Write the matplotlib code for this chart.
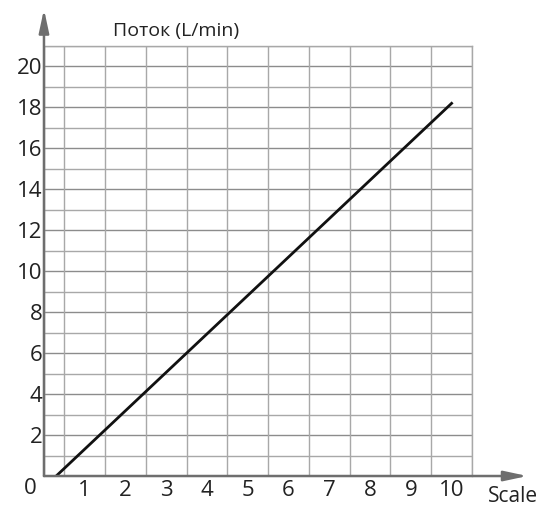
import numpy as np
import matplotlib.pyplot as plt

# flow vs scale setting
scale = [0.3, 10.0]
flow = [0.0, 18.2]
x_ticks = [1, 2, 3, 4, 5, 6, 7, 8, 9, 10]
y_ticks = [2, 4, 6, 8, 10, 12, 14, 16, 18, 20]

plt.rcParams["font.family"] = ["Open Sans", "DejaVu Sans"]

fig = plt.figure(figsize=(5.49, 5.09), dpi=100)
ax = fig.add_axes([0.0801, 0.0648, 0.7796, 0.8448])

ax.set_xlim(0, 10.5)
ax.set_ylim(0, 21)

# grid: every 0.5 on x, every 1 on y
ax.set_xticks(np.arange(0, 10.51, 0.5), minor=True)
ax.set_yticks(np.arange(0, 21.01, 1), minor=True)
ax.grid(which="minor", color="#a8a8a8", lw=1.0)
ax.set_axisbelow(True)

ax.set_xticks(x_ticks)
ax.set_xticklabels([str(v) for v in x_ticks], fontsize=16, color="#222222")
ax.set_yticks(y_ticks)
ax.set_yticklabels([str(v) for v in y_ticks], fontsize=16, color="#222222")
for yv in y_ticks:
    ax.axhline(yv, color="#8c8c8c", lw=1.0, zorder=0.5)
ax.tick_params(which="both", length=0)
ax.tick_params(axis="x", pad=3)
ax.tick_params(axis="y", pad=1)

for side in ["top", "right"]:
    ax.spines[side].set_color("#a8a8a8")
    ax.spines[side].set_linewidth(1.0)
for side in ["left", "bottom"]:
    ax.spines[side].set_visible(False)

ax.plot(scale, flow, color="#111111", lw=2.0, zorder=3)

# axis arrows
arrow = dict(arrowstyle="-|>,head_length=1.4,head_width=0.3", color="#6e6e6e",
             lw=1.8, shrinkA=0, shrinkB=0, mutation_scale=10)
ax.annotate("", xy=(11.86, 0), xytext=(0, 0), arrowprops=arrow,
            annotation_clip=False, zorder=4)
ax.annotate("", xy=(0, 22.8), xytext=(0, 0), arrowprops=arrow,
            annotation_clip=False, zorder=4)

ax.text(-0.34, -0.6, "0", fontsize=16, color="#222222", ha="center", va="center")
ax.text(3.24, 21.75, "Поток (L/min)", fontsize=14, color="#222222",
        ha="center", va="center")
ax.text(11.5, -1.0, "Scale", fontsize=15, color="#222222", ha="center", va="center")

fig.savefig("out.png", dpi=100)
